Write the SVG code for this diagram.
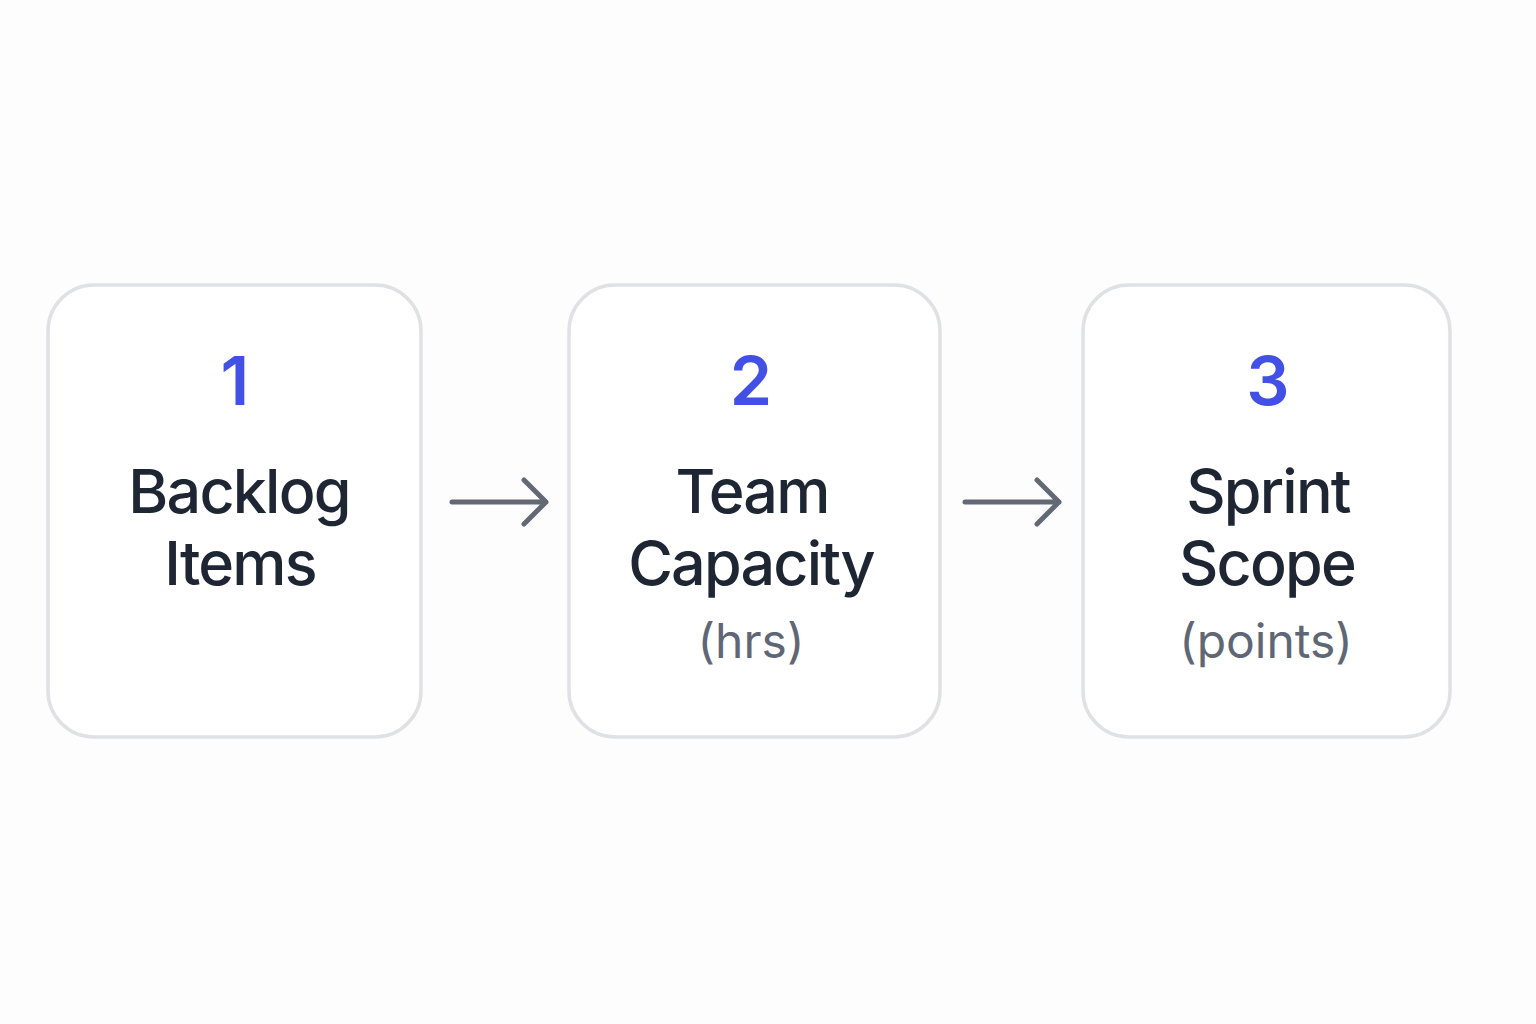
<svg xmlns="http://www.w3.org/2000/svg" width="1536" height="1024" viewBox="0 0 1536 1024">
<style>
.box{fill:#ffffff;stroke:#e0e1e5;stroke-width:3.5}
.num{font-family:Inter,"Noto Sans",sans-serif;font-weight:600;font-size:68px;fill:#4350e6;text-anchor:middle}
.lbl{font-family:Inter,"Noto Sans",sans-serif;font-weight:500;font-size:61px;letter-spacing:-1.8px;fill:#1f2633;text-anchor:middle}
.sub{font-family:Inter,"Noto Sans",sans-serif;font-weight:400;font-size:48px;fill:#5f6675;text-anchor:middle}
.arr{fill:none;stroke:#626874;stroke-width:5;stroke-linecap:round;stroke-linejoin:round}
</style>
<rect width="1536" height="1024" fill="#fdfdfd"/>
<g id="node1">
<rect class="box" x="48" y="285" width="373" height="452" rx="46"/>
<text class="num" x="235" y="405">1</text>
<text class="lbl" x="239" y="513">Backlog</text>
<text class="lbl" x="240" y="585">Items</text>
</g>
<g id="node2">
<rect class="box" x="569" y="285" width="371" height="452" rx="46"/>
<text class="num" x="751" y="405">2</text>
<text class="lbl" x="752" y="513">Team</text>
<text class="lbl" x="751" y="585">Capacity</text>
<text class="sub" x="751" y="658">(hrs)</text>
</g>
<g id="node3">
<rect class="box" x="1083" y="285" width="367" height="452" rx="46"/>
<text class="num" x="1268" y="405">3</text>
<text class="lbl" x="1268" y="513">Sprint</text>
<text class="lbl" x="1267" y="585">Scope</text>
<text class="sub" x="1266" y="658">(points)</text>
</g>
<g id="connectors">
<path class="arr" d="M452 502 H546 M524 480 L546 502 L524 524"/>
<path class="arr" d="M965 502 H1059 M1037 480 L1059 502 L1037 524"/>
</g>
</svg>
